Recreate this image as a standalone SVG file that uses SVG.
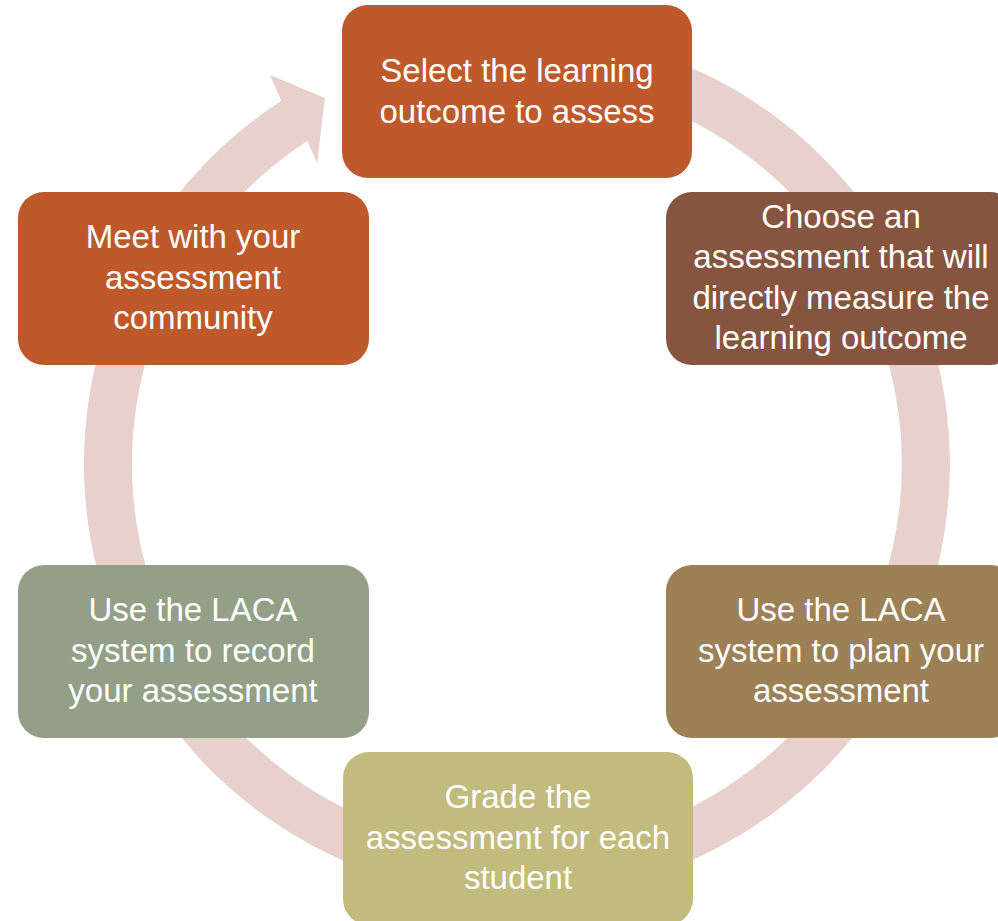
<svg xmlns="http://www.w3.org/2000/svg" width="998" height="921" viewBox="0 0 998 921">
<style>
.box{stroke:none}
.t{font-family:"Liberation Sans",Arial,sans-serif;font-size:33px;fill:#ffffff;text-anchor:middle}
</style>
<rect width="998" height="921" fill="#ffffff"/>
<g id="connectors">
<path d="M 592.2 37.6 A 433 433 0 1 1 281.2 100.8 L 270 75 L 325 98 L 317 163 L 307.3 141.1 A 385 385 0 1 0 583.8 84.9 Z" fill="#E8D0CD"/>
</g>
<g id="n1">
<rect class="box" x="342" y="5" width="350" height="173" rx="26" fill="#BE592C"/>
<text class="t" x="517" y="82">Select the learning</text>
<text class="t" x="517" y="122.5">outcome to assess</text>
</g>
<g id="n2">
<rect class="box" x="666" y="192" width="350" height="173" rx="26" fill="#87553F"/>
<text class="t" x="841" y="227.5">Choose an</text>
<text class="t" x="841" y="268">assessment that will</text>
<text class="t" x="841" y="308.5">directly measure the</text>
<text class="t" x="841" y="349">learning outcome</text>
</g>
<g id="n3">
<rect class="box" x="666" y="565" width="350" height="173" rx="26" fill="#9C8157"/>
<text class="t" x="841" y="621">Use the LACA</text>
<text class="t" x="841" y="661.5">system to plan your</text>
<text class="t" x="841" y="702">assessment</text>
</g>
<g id="n4">
<rect class="box" x="343" y="752" width="350" height="173" rx="26" fill="#C2BB7E"/>
<text class="t" x="518" y="808">Grade the</text>
<text class="t" x="518" y="848.5">assessment for each</text>
<text class="t" x="518" y="889">student</text>
</g>
<g id="n5">
<rect class="box" x="18" y="565" width="351" height="173" rx="26" fill="#949F87"/>
<text class="t" x="193" y="621">Use the LACA</text>
<text class="t" x="193" y="661.5">system to record</text>
<text class="t" x="193" y="702">your assessment</text>
</g>
<g id="n6">
<rect class="box" x="18" y="192" width="351" height="173" rx="26" fill="#BE592C"/>
<text class="t" x="193" y="248">Meet with your</text>
<text class="t" x="193" y="288.5">assessment</text>
<text class="t" x="193" y="329">community</text>
</g>
</svg>
